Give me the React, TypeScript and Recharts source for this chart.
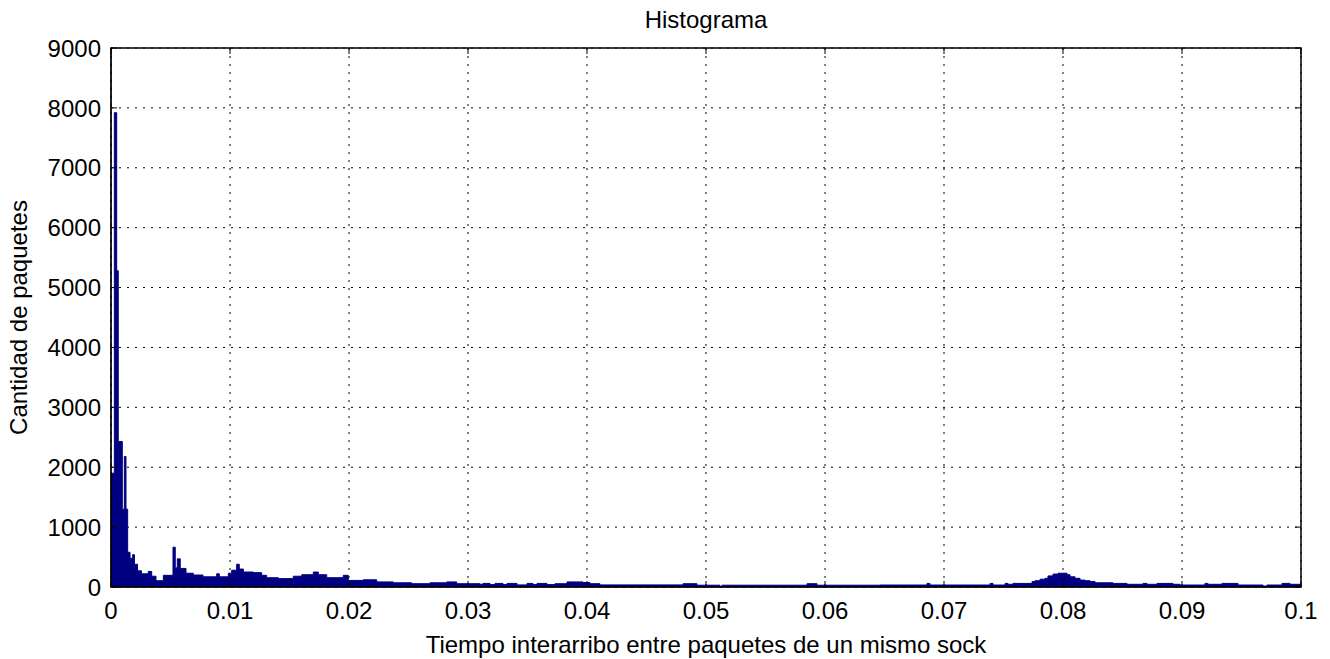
import { AreaChart, Area, XAxis, YAxis, CartesianGrid, ReferenceArea } from 'recharts'

// left edge of each step (seconds) and its count
const binStart = [
  0, 0.00028, 0.00048, 0.00061, 0.00095, 0.00112, 0.00126, 0.0014, 0.0016, 0.00182,
  0.00197, 0.00223, 0.00256, 0.00313, 0.00342, 0.00378, 0.0044, 0.00521, 0.0054, 0.00557,
  0.00582, 0.0063, 0.00692, 0.00773, 0.00888, 0.0091, 0.00986, 0.01014, 0.01056, 0.01078,
  0.01112, 0.01196, 0.01266, 0.01308, 0.01406, 0.01532, 0.01603, 0.017, 0.01742, 0.01813,
  0.01952, 0.01994, 0.0212, 0.02233, 0.02372, 0.02527, 0.02681, 0.02821, 0.02905, 0.03101,
  0.03126, 0.03185, 0.03227, 0.03294, 0.03328, 0.03412, 0.03496, 0.03546, 0.0358, 0.03664,
  0.03731, 0.03832, 0.03966, 0.04025, 0.04109, 0.04807, 0.04924, 0.05118, 0.05134, 0.05849,
  0.05933, 0.06462, 0.06857, 0.06882, 0.07387, 0.07412, 0.07513, 0.07538, 0.0758, 0.0774,
  0.07765, 0.07807, 0.07849, 0.07874, 0.07916, 0.07958, 0.08034, 0.08059, 0.08101, 0.08143,
  0.08185, 0.08227, 0.08269, 0.0842, 0.08538, 0.08672, 0.08706, 0.0879, 0.08924, 0.08983,
  0.09193, 0.09218, 0.09336, 0.09471, 0.09681, 0.09714, 0.0984, 0.09908, 0.1,
]
const binCount = [
  1900, 7920, 5280, 2430, 1300, 2180, 1300, 580, 480, 540,
  380, 270, 220, 260, 180, 105, 195, 665, 320, 470,
  310, 230, 200, 170, 220, 170, 230, 280, 380, 300,
  250, 240, 195, 155, 140, 180, 205, 250, 205, 155,
  195, 110, 120, 85, 70, 55, 70, 85, 55, 45,
  60, 40, 60, 40, 60, 35, 60, 40, 60, 40,
  55, 85, 75, 55, 35, 55, 30, 5, 30, 55,
  30, 33, 60, 33, 60, 33, 60, 45, 60, 90,
  105, 130, 145, 185, 215, 230, 205, 170, 145, 115,
  105, 90, 70, 60, 45, 60, 45, 60, 45, 33,
  60, 45, 60, 33, 15, 33, 60, 45, 45,
]

const xTicks = [0, 0.01, 0.02, 0.03, 0.04, 0.05, 0.06, 0.07, 0.08, 0.09, 0.1]
const yTicks = [0, 1000, 2000, 3000, 4000, 5000, 6000, 7000, 8000, 9000]

const data = binStart.map((t, i) => ({ t, n: binCount[i] }))

const FONT = '"Liberation Sans", Arial, sans-serif'
const PLOT_L = 111
const PLOT_R = 1301
const PLOT_T = 48
const PLOT_B = 587

const YTick = ({ x, y, payload }: any) => (
  <g>
    <line x1={PLOT_L} x2={PLOT_L + 6} y1={y} y2={y} stroke="#000" />
    <line x1={PLOT_R - 6} x2={PLOT_R} y1={y} y2={y} stroke="#000" />
    <text x={x} y={y} dy="0.36em" textAnchor="end" fontFamily={FONT} fontSize={24} fill="#000">
      {payload.value}
    </text>
  </g>
)

const XTick = ({ x, y, payload }: any) => (
  <g>
    <line x1={x} x2={x} y1={PLOT_B} y2={PLOT_B - 6} stroke="#000" />
    <line x1={x} x2={x} y1={PLOT_T} y2={PLOT_T + 6} stroke="#000" />
    <text x={x} y={y} textAnchor="middle" fontFamily={FONT} fontSize={24} fill="#000">
      {String(payload.value)}
    </text>
  </g>
)

export default function App() {
  return (
    <div style={{ position: 'relative', width: 1330, height: 659, background: '#fff' }}>
      <style>{'body{margin:0}'}</style>
      <div
        style={{
          position: 'absolute',
          left: PLOT_L,
          width: PLOT_R - PLOT_L,
          top: 6,
          textAlign: 'center',
          fontFamily: FONT,
          fontSize: 24,
          color: '#000',
        }}
      >
        Histograma
      </div>
      <AreaChart width={1330} height={659} data={data} margin={{ top: PLOT_T, right: 1330 - PLOT_R, left: 0, bottom: 0 }}>
        <CartesianGrid stroke="#000" strokeDasharray="2 6" />
        <XAxis
          dataKey="t"
          type="number"
          domain={[0, 0.1]}
          ticks={xTicks}
          height={659 - PLOT_B}
          stroke="#000"
          tickLine={false}
          tickSize={0}
          tickMargin={32}
          tick={<XTick />}
          label={{ value: 'Tiempo interarribo entre paquetes de un mismo sock', position: 'insideBottom', offset: 6, style: { fontFamily: FONT, fontSize: 24, fill: '#000' } }}
        />
        <YAxis
          type="number"
          domain={[0, 9000]}
          ticks={yTicks}
          width={PLOT_L}
          stroke="#000"
          tickLine={false}
          tickSize={0}
          tickMargin={10}
          tick={<YTick />}
          label={{ value: 'Cantidad de paquetes', angle: -90, position: 'insideLeft', offset: 18, style: { fontFamily: FONT, fontSize: 24, fill: '#000', textAnchor: 'middle' } }}
        />
        <Area
          type="stepAfter"
          dataKey="n"
          stroke="#000080"
          strokeWidth={1}
          fill="#000080"
          fillOpacity={1}
          isAnimationActive={false}
          dot={false}
          activeDot={false}
        />
        <ReferenceArea x1={0} x2={0.1} y1={0} y2={9000} fill="none" stroke="#000" strokeWidth={1.5} ifOverflow="visible" />
      </AreaChart>
    </div>
  )
}
